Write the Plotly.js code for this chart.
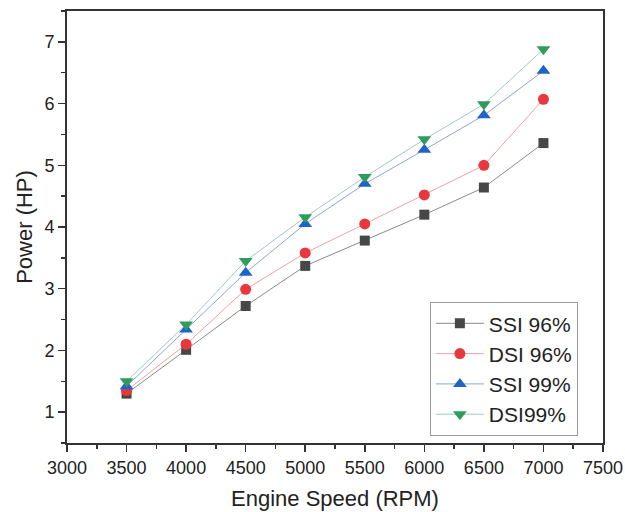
<!DOCTYPE html>
<html>
<head>
<meta charset="utf-8">
<script src="https://cdn.plot.ly/plotly-3.0.1.min.js"></script>
<style>html,body{margin:0;padding:0;background:#fff;}#chart{width:625px;height:512px;}</style>
</head>
<body>
<div id="chart"></div>
<script>
var rpm = [3500, 4000, 4500, 5000, 5500, 6000, 6500, 7000];
var ssi96 = [1.30, 2.01, 2.72, 3.37, 3.78, 4.20, 4.64, 5.36];
var dsi96 = [1.35, 2.10, 2.99, 3.58, 4.05, 4.52, 5.00, 6.07];
var ssi99 = [1.42, 2.34, 3.26, 4.05, 4.70, 5.25, 5.81, 6.53];
var dsi99 = [1.50, 2.42, 3.45, 4.16, 4.81, 5.42, 5.99, 6.88];
var names = ['SSI 96%', 'DSI 96%', 'SSI 99%', 'DSI99%'];

function tr(y, name, mcol, lcol, sym, sz) {
  return {x: rpm, y: y, name: name, type: 'scatter', mode: 'lines+markers',
    line: {color: lcol, width: 1},
    marker: {symbol: sym, size: sz, color: mcol}};
}
var data = [
  tr(ssi96, names[0], '#474747', '#8a8a8a', 'square', 10),
  tr(dsi96, names[1], '#e8383d', '#eba3a3', 'circle', 11),
  tr(ssi99, names[2], '#1f63c9', '#8fa6c6', 'triangle-up', 12),
  tr(dsi99, names[3], '#2e9d5c', '#9fc9c4', 'triangle-down', 12)
];
var fnt = {family: 'Liberation Sans, Arial, sans-serif', color: '#222'};
var layout = {
  width: 625, height: 512,
  margin: {l: 67, r: 22, t: 11, b: 69},
  paper_bgcolor: '#fff', plot_bgcolor: '#fff',
  font: fnt,
  showlegend: true,
  legend: {x: 0.677, y: 0.326, xanchor: 'left', yanchor: 'top',
    bordercolor: '#999', borderwidth: 1, bgcolor: '#fff',
    font: {family: fnt.family, size: 21, color: '#222'}, itemwidth: 48, tracegroupgap: 0},
  xaxis: {range: [3000, 7500], tickvals: [3000,3500,4000,4500,5000,5500,6000,6500,7000,7500],
    ticks: 'outside', ticklen: 7, tickwidth: 1.5, tickcolor: '#333',
    minor: {dtick: 250, tick0: 3000, ticks: 'outside', ticklen: 4, tickcolor: '#333', tickwidth: 1.5},
    showline: true, linecolor: '#333', linewidth: 2, mirror: true, showgrid: false, zeroline: false,
    tickfont: {size: 18, color: '#222'},
    title: {text: 'Engine Speed (RPM)', font: {size: 22, color: '#222'}, standoff: 14}},
  yaxis: {range: [0.5, 7.5], tickvals: [1,2,3,4,5,6,7],
    ticks: 'outside', ticklen: 7, tickwidth: 1.5, tickcolor: '#333',
    minor: {dtick: 0.5, tick0: 0.5, ticks: 'outside', ticklen: 4, tickcolor: '#333', tickwidth: 1.5},
    showline: true, linecolor: '#333', linewidth: 2, mirror: true, showgrid: false, zeroline: false,
    tickfont: {size: 18, color: '#222'},
    title: {text: 'Power (HP)', font: {size: 22, color: '#222'}, standoff: 6}}
};
Plotly.newPlot('chart', data, layout, {displayModeBar: false, staticPlot: true});
</script>
</body>
</html>
